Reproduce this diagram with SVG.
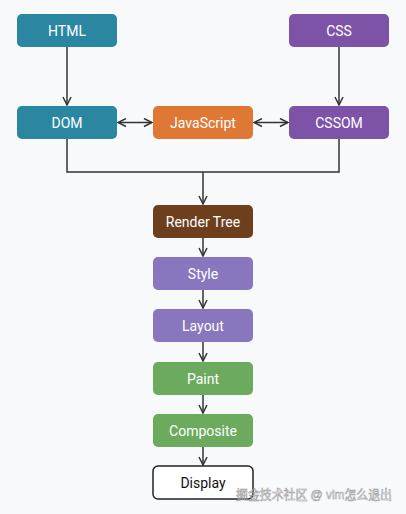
<svg xmlns="http://www.w3.org/2000/svg" width="406" height="514" viewBox="0 0 406 514">
<style>
.n text{font-family:Roboto,"Open Sans",sans-serif;font-size:14px;fill:#fff;text-anchor:middle;dominant-baseline:central}
.c{fill:none;stroke:#333;stroke-width:1.5}
.wm{font-family:"Liberation Sans","Noto Sans CJK SC",sans-serif;font-size:13px;fill:#fff;stroke:#888;stroke-width:0.6;opacity:0.8}
</style>
<defs>
<marker id="ah" viewBox="0 0 10 10" refX="9" refY="5" markerWidth="10" markerHeight="10" markerUnits="userSpaceOnUse" orient="auto-start-reverse">
<path d="M1,1 L9,5 L1,9" fill="none" stroke="#333" stroke-width="1.5"/>
</marker>
</defs>
<rect width="406" height="514" fill="#f8f9fb"/>
<g id="connectors">
<line class="c" x1="67" y1="47" x2="67" y2="105" marker-end="url(#ah)"/>
<line class="c" x1="339" y1="47" x2="339" y2="105" marker-end="url(#ah)"/>
<line class="c" x1="118" y1="122.5" x2="152" y2="122.5" marker-start="url(#ah)" marker-end="url(#ah)"/>
<line class="c" x1="254" y1="122.5" x2="288" y2="122.5" marker-start="url(#ah)" marker-end="url(#ah)"/>
<polyline class="c" points="67,139 67,172 339,172 339,139"/>
<line class="c" x1="203" y1="172" x2="203" y2="204" marker-end="url(#ah)"/>
<line class="c" x1="203" y1="238" x2="203" y2="256" marker-end="url(#ah)"/>
<line class="c" x1="203" y1="290" x2="203" y2="308" marker-end="url(#ah)"/>
<line class="c" x1="203" y1="342" x2="203" y2="361" marker-end="url(#ah)"/>
<line class="c" x1="203" y1="395" x2="203" y2="413" marker-end="url(#ah)"/>
<line class="c" x1="203" y1="447" x2="203" y2="465" marker-end="url(#ah)"/>
</g>
<g id="html" class="n"><rect x="17" y="14" width="100" height="33" rx="5" fill="#2b86a1"/><text x="67" y="30.5">HTML</text></g>
<g id="css" class="n"><rect x="289" y="14" width="100" height="33" rx="5" fill="#7c53a7"/><text x="339" y="30.5">CSS</text></g>
<g id="dom" class="n"><rect x="17" y="106" width="100" height="33" rx="5" fill="#2b86a1"/><text x="67" y="122.5">DOM</text></g>
<g id="javascript" class="n"><rect x="153" y="106" width="100" height="33" rx="5" fill="#e07835"/><text x="203" y="122.5">JavaScript</text></g>
<g id="cssom" class="n"><rect x="289" y="106" width="100" height="33" rx="5" fill="#7c53a7"/><text x="339" y="122.5">CSSOM</text></g>
<g id="render-tree" class="n"><rect x="153" y="205" width="100" height="33" rx="5" fill="#6e3f1d"/><text x="203" y="221.5">Render Tree</text></g>
<g id="style" class="n"><rect x="153" y="257" width="100" height="33" rx="5" fill="#8877be"/><text x="203" y="273.5">Style</text></g>
<g id="layout" class="n"><rect x="153" y="309" width="100" height="33" rx="5" fill="#8877be"/><text x="203" y="325.5">Layout</text></g>
<g id="paint" class="n"><rect x="153" y="362" width="100" height="33" rx="5" fill="#6cab5e"/><text x="203" y="378.5">Paint</text></g>
<g id="composite" class="n"><rect x="153" y="414" width="100" height="33" rx="5" fill="#6cab5e"/><text x="203" y="430.5">Composite</text></g>
<g id="display" class="n"><rect x="153" y="466" width="100" height="33" rx="5" fill="#fff" stroke="#222" stroke-width="1.5"/><text x="203" y="482.5" style="fill:#111">Display</text></g>
<text class="wm" x="236" y="499" textLength="156" lengthAdjust="spacingAndGlyphs">掘金技术社区 @ vim怎么退出</text>
</svg>
